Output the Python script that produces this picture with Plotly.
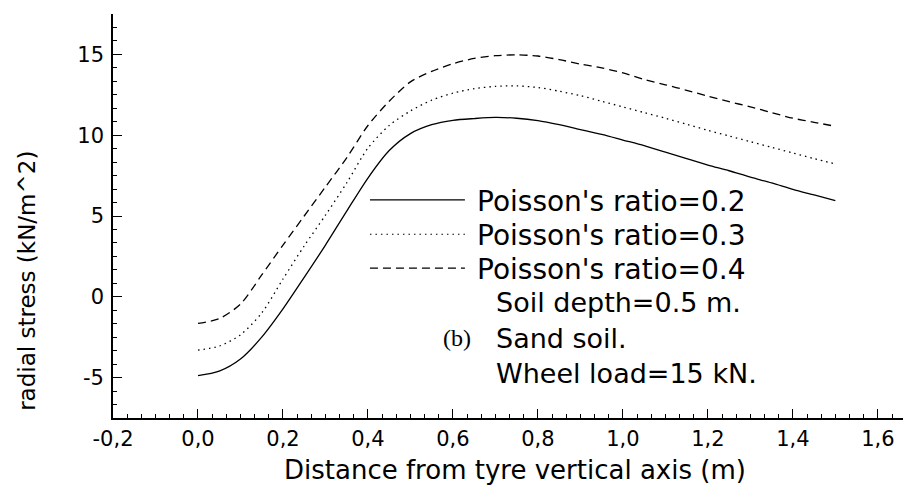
import plotly.graph_objects as go

# distance from tyre vertical axis (m)
distance = [0.00, 0.05, 0.10, 0.15, 0.20, 0.25, 0.30, 0.35, 0.40, 0.45,
            0.50, 0.55, 0.60, 0.65, 0.70, 0.75, 0.80, 0.85, 0.90, 0.95,
            1.00, 1.05, 1.10, 1.15, 1.20, 1.25, 1.30, 1.35, 1.40, 1.45, 1.50]

# radial stress (kN/m^2) for each Poisson's ratio
stress_nu02 = [-4.88, -4.60, -3.85, -2.50, -0.75, 1.20, 3.20, 5.30, 7.35, 9.05,
               10.10, 10.65, 10.92, 11.03, 11.10, 11.05, 10.90, 10.65, 10.35, 10.05,
               9.70, 9.35, 8.95, 8.55, 8.15, 7.80, 7.40, 7.05, 6.65, 6.30, 5.95]
stress_nu03 = [-3.30, -3.05, -2.35, -1.00, 1.10, 3.15, 5.05, 7.05, 9.20, 10.60,
               11.50, 12.17, 12.60, 12.88, 13.02, 13.05, 12.95, 12.72, 12.45, 12.10,
               11.75, 11.40, 11.05, 10.68, 10.30, 9.95, 9.60, 9.25, 8.90, 8.55, 8.22]
stress_nu04 = [-1.65, -1.35, -0.45, 1.35, 3.20, 5.00, 6.80, 8.60, 10.60, 12.10,
               13.30, 13.95, 14.42, 14.75, 14.92, 14.97, 14.90, 14.68, 14.40, 14.17,
               13.85, 13.45, 13.12, 12.78, 12.42, 12.08, 11.75, 11.40, 11.05, 10.80, 10.55]

x_tick_vals = [-0.2, 0.0, 0.2, 0.4, 0.6, 0.8, 1.0, 1.2, 1.4, 1.6]
x_tick_text = ["-0,2", "0,0", "0,2", "0,4", "0,6", "0,8", "1,0", "1,2", "1,4", "1,6"]
y_tick_vals = [-5, 0, 5, 10, 15]
y_tick_text = ["-5", "0", "5", "10", "15"]

legend_labels = ["Poisson's ratio=0.2", "Poisson's ratio=0.3", "Poisson's ratio=0.4"]
note_lines = ["Soil depth=0.5 m.", "Sand soil.", "Wheel load=15 kN."]

FONT = "DejaVu Sans"
dashes = ["solid", "1.5px,4px", "8px,5px"]
series = [stress_nu02, stress_nu03, stress_nu04]

fig = go.Figure()
for name, ys, dash in zip(legend_labels, series, dashes):
    fig.add_trace(go.Scatter(x=distance, y=ys, mode="lines", name=name,
                             line=dict(color="black", width=1.3, dash=dash,
                                       shape="spline", smoothing=0.8)))

# hand-made legend (long line samples like the original)
legend_rows = [0.540, 0.455, 0.371]
for label, dash, yy in zip(legend_labels, dashes, legend_rows):
    fig.add_shape(type="line", xref="paper", yref="paper",
                  x0=0.322, x1=0.441, y0=yy, y1=yy,
                  line=dict(color="black", width=1.1, dash=dash))
    fig.add_annotation(text=label, xref="paper", yref="paper", x=0.454, y=yy - 0.004,
                       xanchor="left", yanchor="middle", showarrow=False,
                       font=dict(family=FONT, size=28, color="black"))

note_rows = [0.285, 0.198, 0.111]
for line, yy in zip(note_lines, note_rows):
    fig.add_annotation(text=line, xref="paper", yref="paper", x=0.477, y=yy,
                       xanchor="left", yanchor="middle", showarrow=False,
                       font=dict(family=FONT, size=27, color="black"))
fig.add_annotation(text="(b)", xref="paper", yref="paper", x=0.451, y=0.198,
                   xanchor="right", yanchor="middle", showarrow=False,
                   font=dict(family="Liberation Serif", size=24, color="black"))

# axis titles
fig.add_annotation(text="Distance from tyre vertical axis (m)", xref="paper", yref="paper",
                   x=0.504, y=-0.129, xanchor="center", yanchor="middle", showarrow=False,
                   font=dict(family=FONT, size=26, color="black"))
fig.add_annotation(text="radial stress (kN/m^2)", xref="paper", yref="paper",
                   x=-0.108, y=0.339, xanchor="center", yanchor="middle", showarrow=False,
                   textangle=-90, font=dict(family=FONT, size=23, color="black"))

axis_common = dict(showgrid=False, zeroline=False, showline=True, linecolor="black",
                   linewidth=1.6, ticks="inside", tickcolor="black", tickwidth=1.3,
                   ticklen=9, tickfont=dict(family=FONT, size=21, color="black"))

fig.update_xaxes(range=[-0.2, 1.678], tickvals=x_tick_vals, ticktext=x_tick_text,
                 ticklabelstandoff=1,
                 minor=dict(dtick=0.2 / 6, tick0=0, ticks="inside", ticklen=4,
                            tickcolor="black", tickwidth=1.2),
                 **axis_common)
fig.update_yaxes(range=[-7.5, 17.5], tickvals=y_tick_vals, ticktext=y_tick_text,
                 ticklabelstandoff=3,
                 minor=dict(dtick=5 / 6, tick0=0, ticks="inside", ticklen=4,
                            tickcolor="black", tickwidth=1.2),
                 **axis_common)

# the page body adds an 8px offset, so the figure is 8px smaller on each axis
fig.update_layout(
    width=903, height=478,
    margin=dict(l=105, r=0, t=6, b=68),
    plot_bgcolor="white", paper_bgcolor="white",
    showlegend=False,
)

fig.write_html("out.html")
